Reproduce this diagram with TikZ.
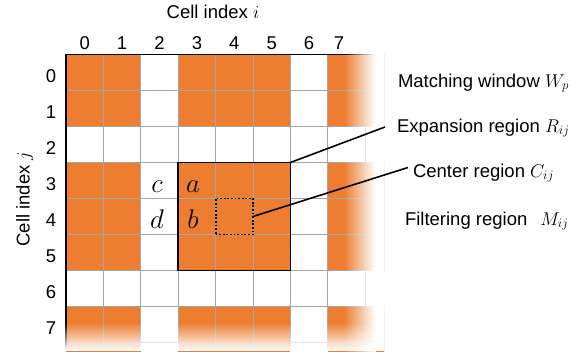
\RequirePackage{fix-cm}
\documentclass[tikz,border=0pt]{standalone}
\usepackage{fontspec}
\setmainfont{Liberation Sans}
\definecolor{cellorange}{HTML}{ED7D31}
\definecolor{gridgray}{HTML}{A6A6A6}
\begin{document}
\begin{tikzpicture}[x=1pt,y=-1pt,
  lbl/.style={font=\fontsize{18.5}{22}\selectfont, inner sep=0pt, outer sep=0pt},
  var/.style={font=\fontsize{27}{30}\selectfont, inner sep=0pt, outer sep=0pt, anchor=base},
  gridline/.style={draw=gridgray, line width=1pt},
  region/.style={draw=black, line width=1.8pt, inner sep=0pt, outer sep=0pt},
  leader/.style={draw=black, line width=1.6pt}]
\useasboundingbox (0,0) rectangle (577,351);
\clip (0,0) rectangle (577,351);
\begin{scope}
\clip (0,0) rectangle (384,351);
% orange cells
\foreach \c in {0,1,3,4,5,7,8}
  \foreach \r in {0,1,3,4,5,7,8}
    \fill[cellorange] ({66+37.4*\c},{54.5+36*\r}) rectangle ++(37.4,36);
% grid lines
\foreach \k in {1,...,8}
  \draw[gridline] ({66+37.4*\k},54.5) -- ({66+37.4*\k},351);
\foreach \k in {1,...,8}
  \draw[gridline] (66,{54.5+36*\k}) -- (385,{54.5+36*\k});
\draw[black, line width=1.3pt] (66,351) -- (66,54.5) -- (385,54.5);
% fades (stepwise white overlays)
\foreach \i in {0,...,31}
  \fill[white, opacity={(\i+0.5)/32}] ({344+\i},40) rectangle ++(1.05,312);
\fill[white] (376,40) rectangle (394,351);
\foreach \i in {0,...,27}
  \fill[white, opacity={(\i+0.5)/28}] (60,{323+\i}) rectangle ++(334,1.05);
\end{scope}
% regions
\node[region, minimum width=112.2pt, minimum height=108pt, anchor=north west] (R) at (178.2,162.5) {};
\node[region, dash pattern=on 1.8pt off 1.8pt, minimum width=37.4pt, minimum height=36pt] (C) at (234.3,216.5) {};
% letters
\node[var] (lc) at (157,192) {$c$};
\node[var] (ld) at (157,228) {$d$};
\node[var] (la) at (193,192) {$a$};
\node[var] (lb) at (193,228) {$b$};
% axis labels
\node[lbl, anchor=base] (ti) at (213,18.5) {Cell index $i$};
\node[lbl, anchor=base, rotate=90] (tj) at (29.5,199) {Cell index $j$};
\foreach \c/\xx in {0/84.7,1/122.1,2/159.5,3/196.9,4/234.3,5/271.7,6/309.1,7/339}
  \node[lbl, anchor=base] (col\c) at (\xx,49) {\c};
\foreach \r in {0,...,7}
  \node[lbl, anchor=base] (row\r) at (51,{54.5+36*\r+28}) {\r};
% right labels
\node[lbl, anchor=base west] (tw) at (398,87) {Matching window $W_p$};
\node[lbl, anchor=base west] (te) at (397,132) {Expansion region $R_{ij}$};
\node[lbl, anchor=base west] (tc) at (413,177) {Center region $C_{ij}$};
\node[lbl, anchor=base west] (tm) at (405,225) {Filtering region\hspace{13pt}$M_{ij}$};
% leaders
\coordinate (eR) at (385,127);
\coordinate (eC) at (408,167.5);
\draw[leader] (R.north east) -- (eR);
\draw[leader] (C.east) -- (eC);
\end{tikzpicture}
\end{document}
